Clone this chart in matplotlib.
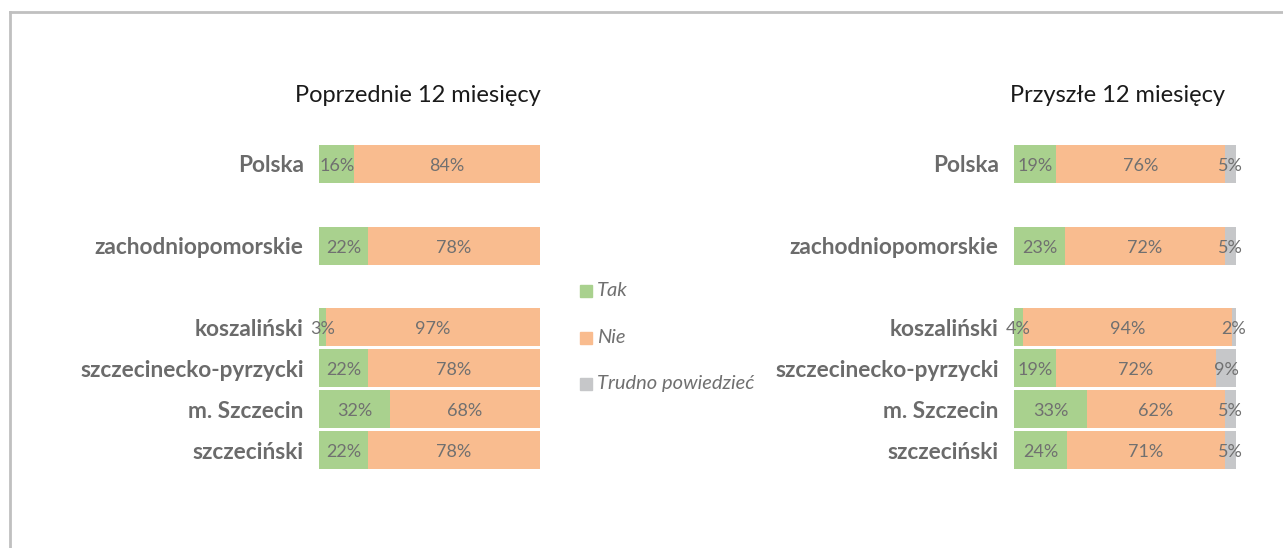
import matplotlib
matplotlib.use("Agg")
import matplotlib.pyplot as plt
from matplotlib.lines import Line2D
from matplotlib.patches import Rectangle
import numpy as np

plt.rcParams["font.family"] = ["Lato", "DejaVu Sans"]

categories = ["Polska", "zachodniopomorskie", "koszaliński",
              "szczecinecko-pyrzycki", "m. Szczecin", "szczeciński"]
row_pos = [0, 2, 4, 5, 6, 7]

prev_tak = [16, 22, 3, 22, 32, 22]
prev_nie = [84, 78, 97, 78, 68, 78]

next_tak = [19, 23, 4, 19, 33, 24]
next_nie = [76, 72, 94, 72, 62, 71]
next_tr = [5, 5, 2, 9, 5, 5]

series_names = ["Tak", "Nie", "Trudno powiedzieć"]
colors = ["#A9D18E", "#F9BC8F", "#C6C7C9"]
label_col = "#6B6B6B"
value_col = "#707070"

W, H = 1283, 548
fig = plt.figure(figsize=(W / 100, H / 100), dpi=100)


def px_axes(x0, x1, y_top, y_bot):
    return fig.add_axes([x0 / W, 1 - y_bot / H, (x1 - x0) / W, (y_bot - y_top) / H])


def draw_panel(ax, series):
    left = np.zeros(len(categories))
    for vals, col in zip(series, colors):
        vals = np.array(vals, dtype=float)
        ax.barh(row_pos, vals, left=left, height=0.93, color=col, edgecolor="none")
        for y, l, v in zip(row_pos, left, vals):
            ax.text(l + v / 2, y + 0.05, f"{int(v)}%", ha="center", va="center",
                    fontsize=13, color=value_col)
        left += vals
    ax.set_xlim(0, 100)
    ax.set_ylim(7.5, -0.5)
    ax.set_yticks(row_pos)
    ax.set_yticklabels(categories, fontsize=16.3, fontweight="bold", color=label_col)
    ax.tick_params(axis="y", length=0, pad=11)
    ax.set_xticks([])
    for s in ax.spines.values():
        s.set_visible(False)


ax1 = px_axes(319, 540, 143.5, 470.5)
draw_panel(ax1, [prev_tak, prev_nie])

ax2 = px_axes(1014, 1236, 143.5, 470.5)
draw_panel(ax2, [next_tak, next_nie, next_tr])

fig.text(418 / W, 1 - 95 / H, "Poprzednie 12 miesięcy", fontsize=17,
         color="#1A1A1A", ha="center", va="center")
fig.text(1117 / W, 1 - 95 / H, "Przyszłe 12 miesięcy", fontsize=17,
         color="#1A1A1A", ha="center", va="center")

# legend
for i, (name, col) in enumerate(zip(series_names, colors)):
    yc = 291 + i * 46.5
    fig.patches.append(Rectangle((580 / W, 1 - (yc + 6) / H), 12 / W, 12 / H,
                                 transform=fig.transFigure, color=col))
    fig.text(597 / W, 1 - yc / H, name, fontsize=14.5, style="italic",
             color=value_col, va="center", ha="left")

# outer frame
fig.lines.append(Line2D([10 / W, 1], [1 - 12 / H, 1 - 12 / H], transform=fig.transFigure,
                        color="#C0C0C0", lw=2))
fig.lines.append(Line2D([10 / W, 10 / W], [0, 1 - 12 / H], transform=fig.transFigure,
                        color="#C0C0C0", lw=2))

fig.savefig("out.png", dpi=100)
